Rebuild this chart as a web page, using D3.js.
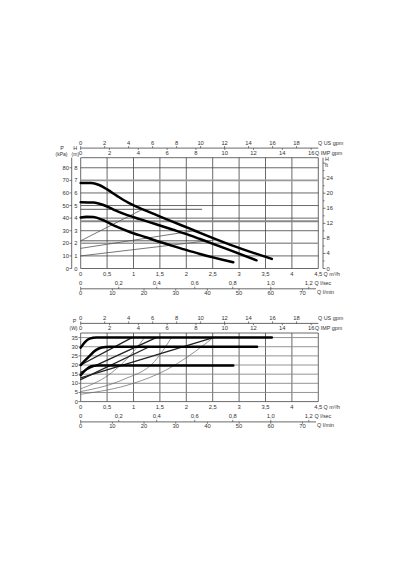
<!DOCTYPE html>
<html><head><meta charset="utf-8">
<script src="https://cdn.jsdelivr.net/npm/d3@7"></script>
<style>body{margin:0;background:#fff}svg{display:block}text{font-family:"Liberation Sans",Arial,sans-serif;fill:#333}text.u{font-family:"Liberation Sans Narrow","Liberation Sans",sans-serif}</style>
</head><body><svg id="c" width="400" height="570"></svg>
<script>
// ---------- data ----------
const flowTicks = [0,0.5,1,1.5,2,2.5,3,3.5,4,4.5];
const flowTickLabels = ["0","0,5","1","1,5","2","2,5","3","3,5","4","4,5"];
const usGpmTicks = [0,2,4,6,8,10,12,14,16,18];
const impGpmTicks = [0,2,4,6,8,10,12,14,16];
const lsecTicks = [0,0.2,0.4,0.6,0.8,1.0,1.2];
const lsecLabels = ["0","0,2","0,4","0,6","0,8","1,0","1,2"];
const lminTicks = [0,10,20,30,40,50,60,70];
const kpaTicks = [0,10,20,30,40,50,60,70,80];
const mTicks = [0,1,2,3,4,5,6,7,8];
const ftTicks = [0,4,8,12,16,20,24];
const wattTicks = [0,5,10,15,20,25,30,35];

// head curves (Q m3/h, kPa)
const headHigh = [[0,68],[0.2,68],[0.35,66.3],[0.5,62.8],[0.7,57.3],[0.9,52.3],[1.12,48],[1.44,42.4],[1.75,37],[2.07,31.6],[2.26,28.3],[2.85,18.6],[3.62,7.6]];
const headMid  = [[0,52.7],[0.24,52.4],[0.43,50.4],[0.62,46.8],[0.87,42.6],[1.12,39.2],[1.44,35],[1.75,30.8],[2.07,26.3],[2.26,23.4],[2.8,15],[3.33,6.5]];
const headLow  = [[0,40.5],[0.11,41.2],[0.24,41],[0.43,38.3],[0.68,33.2],[0.93,29],[1.25,24.6],[1.5,21],[1.88,16.2],[2.26,11.5],[2.89,4.9]];
// proportional pressure settings (kPa)
const propLow  = [[0,10],[2.55,22.7]];
const propMid  = [[0,16],[2.2,30.3]];
const propHigh = [[0,22],[1.16,46.8]];
// extra constant lines (kPa)
const constDark = [47,22];
const constGrey = [37.5];

// power curves (Q m3/h, W)
const powHigh = [[0,29.5],[0.08,32.5],[0.17,34.4],[0.3,35],[3.62,35]];
const powMid  = [[0,20],[0.15,24.4],[0.28,28],[0.4,29.6],[0.55,30],[3.34,30]];
const powLow  = [[0,14.5],[0.1,17.5],[0.2,19.3],[0.32,19.8],[2.89,19.8]];
const powLineA = [[0,20],[0.97,35]];
const powLineB = [[0,16],[1.43,35]];
const powLineC = [[0,13],[2.51,35]];
const powLineD = [[0,12],[1.3,30]];
const powThinA = [[0,7],[0.52,14.4],[1.02,28],[1.21,35]];
const powThinB = [[0,5.5],[0.8,12],[1.4,22],[1.72,35]];
const powThinC = [[0,4],[1.0,10],[1.6,17],[2.07,25.4],[2.51,35]];

// ---------- drawing ----------
const svg = d3.select("#c");
const x = d3.scaleLinear().domain([0,4.5]).range([80.7,318.3]);
const yTop = d3.scaleLinear().domain([0,88]).range([268.5,157.7]);
const yBot = d3.scaleLinear().domain([0,37.5]).range([401.6,333]);
const FS = 5.8, US = 5.4;

function txt(g,xx,yy,s,anchor,size,cls){
  g.append("text").attr("class",cls||null).attr("x",xx).attr("y",yy).attr("dy","0.35em")
   .attr("text-anchor",anchor||"middle").attr("font-size",size||FS).text(s);
}
function frame(y){
  const g = svg.append("g");
  g.selectAll("line.v").data(flowTicks).join("line")
    .attr("x1",d=>x(d)).attr("x2",d=>x(d)).attr("y1",y.range()[1]).attr("y2",y.range()[0])
    .attr("stroke","#444").attr("stroke-width",0.8);
  g.append("line").attr("x1",x(0)).attr("x2",x(4.5)).attr("y1",y.range()[1]).attr("y2",y.range()[1]).attr("stroke","#444").attr("stroke-width",0.8);
  g.append("line").attr("x1",x(0)).attr("x2",x(4.5)).attr("y1",y.range()[0]).attr("y2",y.range()[0]).attr("stroke","#444").attr("stroke-width",0.8);
  return g;
}
function topAxes(y){
  const g = svg.append("g");
  const top = y.range()[1];
  const ly = top - 9.6;
  const xUS = d3.scaleLinear().domain([0,4.5*4.403]).range(x.range());
  const xIMP = d3.scaleLinear().domain([0,4.5*3.666]).range(x.range());
  g.append("line").attr("x1",x(0)).attr("x2",x(4.5)).attr("y1",ly).attr("y2",ly).attr("stroke","#444").attr("stroke-width",0.8);
  usGpmTicks.forEach(t=>{
    g.append("line").attr("x1",xUS(t)).attr("x2",xUS(t)).attr("y1",ly).attr("y2",ly-2).attr("stroke","#444").attr("stroke-width",0.7);
    txt(g,xUS(t),ly-5,t);
  });
  impGpmTicks.forEach(t=>{
    g.append("line").attr("x1",xIMP(t)).attr("x2",xIMP(t)).attr("y1",ly).attr("y2",ly+1.8).attr("stroke","#444").attr("stroke-width",0.7);
    txt(g,xIMP(t),ly+4.6,t);
  });
  txt(g,318,ly-5,"Q US gpm","start",US,"u");
  txt(g,315,ly+4.6,"Q IMP gpm","start",US,"u");
}
function bottomAxes(y){
  const g = svg.append("g");
  const b = y.range()[0];
  flowTicks.forEach((t,i)=>txt(g,x(t),b+5,flowTickLabels[i]));
  txt(g,323.5,b+5.5,"Q m³/h","start",US,"u");
  const ly = b+20.3;
  const xLS = d3.scaleLinear().domain([0,4.5/3.6]).range(x.range());
  const xLM = d3.scaleLinear().domain([0,4.5/0.06]).range(x.range());
  g.append("line").attr("x1",x(0)).attr("x2",316).attr("y1",ly).attr("y2",ly).attr("stroke","#444").attr("stroke-width",0.8);
  lsecTicks.forEach((t,i)=>{
    g.append("line").attr("x1",xLS(t)).attr("x2",xLS(t)).attr("y1",ly).attr("y2",ly-2).attr("stroke","#444").attr("stroke-width",0.7);
    txt(g,xLS(t),ly-5.5,lsecLabels[i]);
  });
  lminTicks.forEach(t=>{
    g.append("line").attr("x1",xLM(t)).attr("x2",xLM(t)).attr("y1",ly).attr("y2",ly+1.8).attr("stroke","#444").attr("stroke-width",0.7);
    txt(g,xLM(t),ly+4.5,t);
  });
  txt(g,314.5,ly-5.5,"Q l/sec","start",US,"u");
  txt(g,317,ly+3,"Q l/min","start",US,"u");
}
const lineGen = (y,curve)=>d3.line().x(d=>x(d[0])).y(d=>y(d[1])).curve(curve||d3.curveLinear);
function path(data,y,w,col,curve){
  svg.append("path").datum(data).attr("d",lineGen(y,curve)).attr("fill","none")
    .attr("stroke",col).attr("stroke-width",w).attr("stroke-linecap","round").attr("stroke-linejoin","round");
}

// ===== TOP CHART =====
const gT = frame(yTop);
gT.selectAll("line.h").data(kpaTicks.slice(1)).join("line")
  .attr("x1",x(0)).attr("x2",x(4.5)).attr("y1",d=>yTop(d)).attr("y2",d=>yTop(d))
  .attr("stroke",d=>(d===70||d===20)?"#999":"#444").attr("stroke-width",d=>(d===70||d===20)?1.6:0.8);
constGrey.forEach(v=>gT.append("line").attr("x1",x(0)).attr("x2",x(4.5)).attr("y1",yTop(v)).attr("y2",yTop(v)).attr("stroke","#888").attr("stroke-width",2));
constDark.forEach(v=>gT.append("line").attr("x1",x(0)).attr("x2",x(2.3)).attr("y1",yTop(v)).attr("y2",yTop(v)).attr("stroke","#333").attr("stroke-width",0.8));
const axL = svg.append("g");
axL.append("line").attr("x1",71.7).attr("x2",71.7).attr("y1",yTop(88)).attr("y2",yTop(0)).attr("stroke","#444").attr("stroke-width",0.8);
kpaTicks.forEach(t=>{
  axL.append("line").attr("x1",69.5).attr("x2",71.7).attr("y1",yTop(t)).attr("y2",yTop(t)).attr("stroke","#444").attr("stroke-width",0.7);
  txt(axL,69,yTop(t),t,"end");
});
mTicks.forEach(t=>txt(axL,75.8,yTop(t*10),t));
txt(axL,62,148.3,"P",null,US,"u"); txt(axL,61.5,154.3,"(kPa)",null,US-0.4,"u");
txt(axL,75.3,148.3,"H",null,US,"u"); txt(axL,75.3,154.3,"(m)",null,US-0.4,"u");
const axR = svg.append("g");
axR.append("line").attr("x1",323).attr("x2",323).attr("y1",yTop(88)).attr("y2",yTop(0)).attr("stroke","#444").attr("stroke-width",0.8);
d3.range(0,29,2).forEach(t=>{
  const yy = yTop(t*2.989);
  if (yy < yTop(84)) return;
  axR.append("line").attr("x1",323).attr("x2",t%4===0?325.5:324.5).attr("y1",yy).attr("y2",yy).attr("stroke","#444").attr("stroke-width",0.7);
});
ftTicks.forEach(t=>txt(axR,326.5,yTop(t*2.989),t,"start"));
txt(axR,325,159.5,"H","start",US,"u"); txt(axR,325,165.5,"ft","start",US,"u");
topAxes(yTop);
bottomAxes(yTop);
[propLow,propMid,propHigh].forEach(d=>path(d,yTop,0.8,"#555"));
[headHigh,headMid,headLow].forEach(d=>path(d,yTop,2.5,"#000",d3.curveMonotoneX));

// ===== BOTTOM CHART =====
const gB = frame(yBot);
gB.selectAll("line.h").data(wattTicks.slice(1)).join("line")
  .attr("x1",x(0)).attr("x2",x(4.5)).attr("y1",d=>yBot(d)).attr("y2",d=>yBot(d))
  .attr("stroke","#888").attr("stroke-width",0.9);
const axB = svg.append("g");
wattTicks.forEach(t=>{
  axB.append("line").attr("x1",78.5).attr("x2",80.7).attr("y1",yBot(t)).attr("y2",yBot(t)).attr("stroke","#444").attr("stroke-width",0.7);
  txt(axB,78,yBot(t),t,"end");
});
txt(axB,74.5,321,"P",null,US,"u"); txt(axB,73.5,328,"(W)",null,US-0.4,"u");
topAxes(yBot);
bottomAxes(yBot);
[powThinA,powThinB,powThinC].forEach(d=>path(d,yBot,0.7,"#666",d3.curveMonotoneX));
[powLineA,powLineB,powLineC,powLineD].forEach(d=>path(d,yBot,1.3,"#222"));
[powHigh,powMid,powLow].forEach(d=>path(d,yBot,2.5,"#000",d3.curveMonotoneX));
</script></body></html>
